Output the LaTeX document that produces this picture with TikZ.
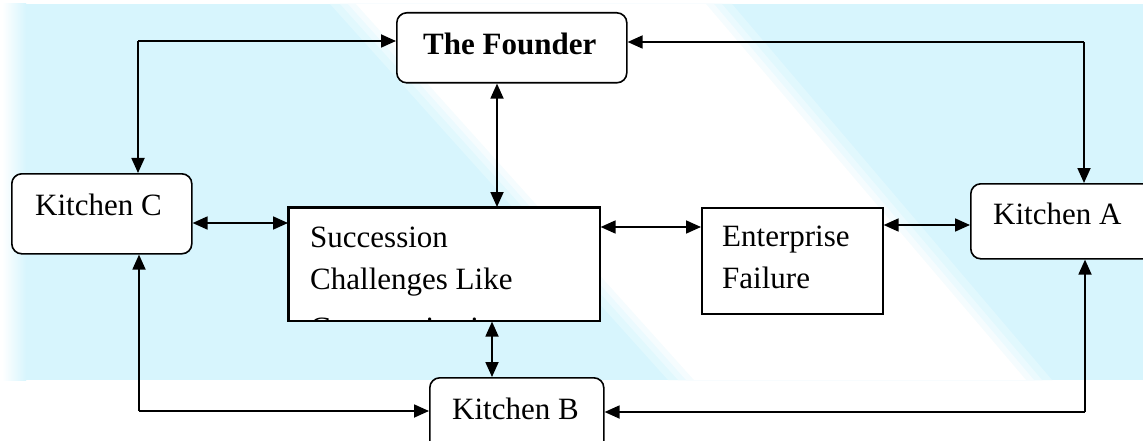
\documentclass[tikz,border=0pt]{standalone}
\usepackage{fontspec}
\setmainfont{Liberation Serif}
\usetikzlibrary{arrows.meta}
\definecolor{bgblue}{HTML}{D7F5FD}
\begin{document}
\begin{tikzpicture}[x=1pt,y=-1pt,
  box/.style={draw=black, line width=1.6pt, fill=white, inner sep=0pt, anchor=north west},
  rbox/.style={box, rounded corners=10pt},
  tip/.tip={Triangle[length=15pt,width=13pt]},
  conn/.style={line width=1.8pt, -tip},
  dconn/.style={line width=1.8pt, tip-tip},
  lbl/.style={font=\fontsize{31}{42}\selectfont, inner sep=0pt, anchor=base west}]

\clip (0,0) rectangle (1143,441);
% background watermark
\fill[white] (0,0) rectangle (1143,441);
\shade[left color=white, right color=bgblue] (2,4) rectangle (26,380);
\fill[bgblue] (26,4) rectangle (1143,380);
\fill[bgblue!75!white] (330,4) -- (732,4) -- (1052,380) -- (668,380) -- cycle;
\fill[bgblue!50!white] (340,4) -- (722,4) -- (1042,380) -- (678,380) -- cycle;
\fill[bgblue!25!white] (348,4) -- (714,4) -- (1034,380) -- (686,380) -- cycle;
\fill[white] (356,4) -- (706,4) -- (1026,380) -- (694,380) -- cycle;

% boxes
\node[rbox, minimum width=230pt, minimum height=70pt] (founder) at (396,12) {};
\node[rbox, minimum width=180pt, minimum height=80pt] (kc) at (11,173) {};
\node[box, minimum width=311pt, minimum height=113pt] (succ) at (288,207) {};
\node[box, minimum width=181pt, minimum height=106pt] (ent) at (701,207) {};
\node[rbox, minimum width=200pt, minimum height=75pt] (ka) at (970,183) {};
\node[rbox, minimum width=174pt, minimum height=90pt] (kb) at (429,377) {};

% labels
\node[lbl, font=\fontsize{31}{42}\selectfont\bfseries] (tfounder) at (423,55) {The Founder};
\node[lbl] (tkc) at (35,215) {Kitchen C};
\node[lbl] (tka) at (993,224) {Kitchen A};
\node[lbl] (tkb) at (452,419) {Kitchen B};
\node[lbl] (tent1) at (722,246) {Enterprise};
\node[lbl] (tent2) at (722,288) {Failure};
\begin{scope}
\clip (succ.south west) rectangle (succ.north east);
\node[lbl] (tsucc1) at (310,247) {Succession};
\node[lbl] (tsucc2) at (310,289) {Challenges Like};
\node[lbl] (tsucc3) at (310,338) {Communication};
\end{scope}
\draw[line width=1.6pt] (succ.south west) rectangle (succ.north east);

% junction points
\coordinate (tl) at (138,41);
\coordinate (tr) at (1084,42);
\coordinate (bl) at (139,411);
\coordinate (br) at (1085,412);
\coordinate (xfs) at (497,0);
\coordinate (xsb) at (492,0);
\coordinate (ycs) at (0,223);
\coordinate (yse) at (0,227);
\coordinate (yea) at (0,225);

% connectors
\draw[conn] (tl) -- (tl -| founder.west);
\draw[conn] (tl) -- (tl |- kc.north);
\draw[conn] (tr) -- (tr -| founder.east);
\draw[conn] (tr) -- (tr |- ka.north);
\draw[conn] (bl) -- (bl |- kc.south);
\draw[conn] (bl) -- (bl -| kb.west);
\draw[conn] (br) -- (br -| kb.east);
\draw[conn] (br) -- (br |- ka.south);
\draw[dconn] (founder.south -| xfs) -- (succ.north -| xfs);
\draw[dconn] (succ.south -| xsb) -- (kb.north -| xsb);
\draw[dconn] (kc.east |- ycs) -- (succ.west |- ycs);
\draw[dconn] (succ.east |- yse) -- (ent.west |- yse);
\draw[dconn] (ent.east |- yea) -- (ka.west |- yea);
\end{tikzpicture}
\end{document}
